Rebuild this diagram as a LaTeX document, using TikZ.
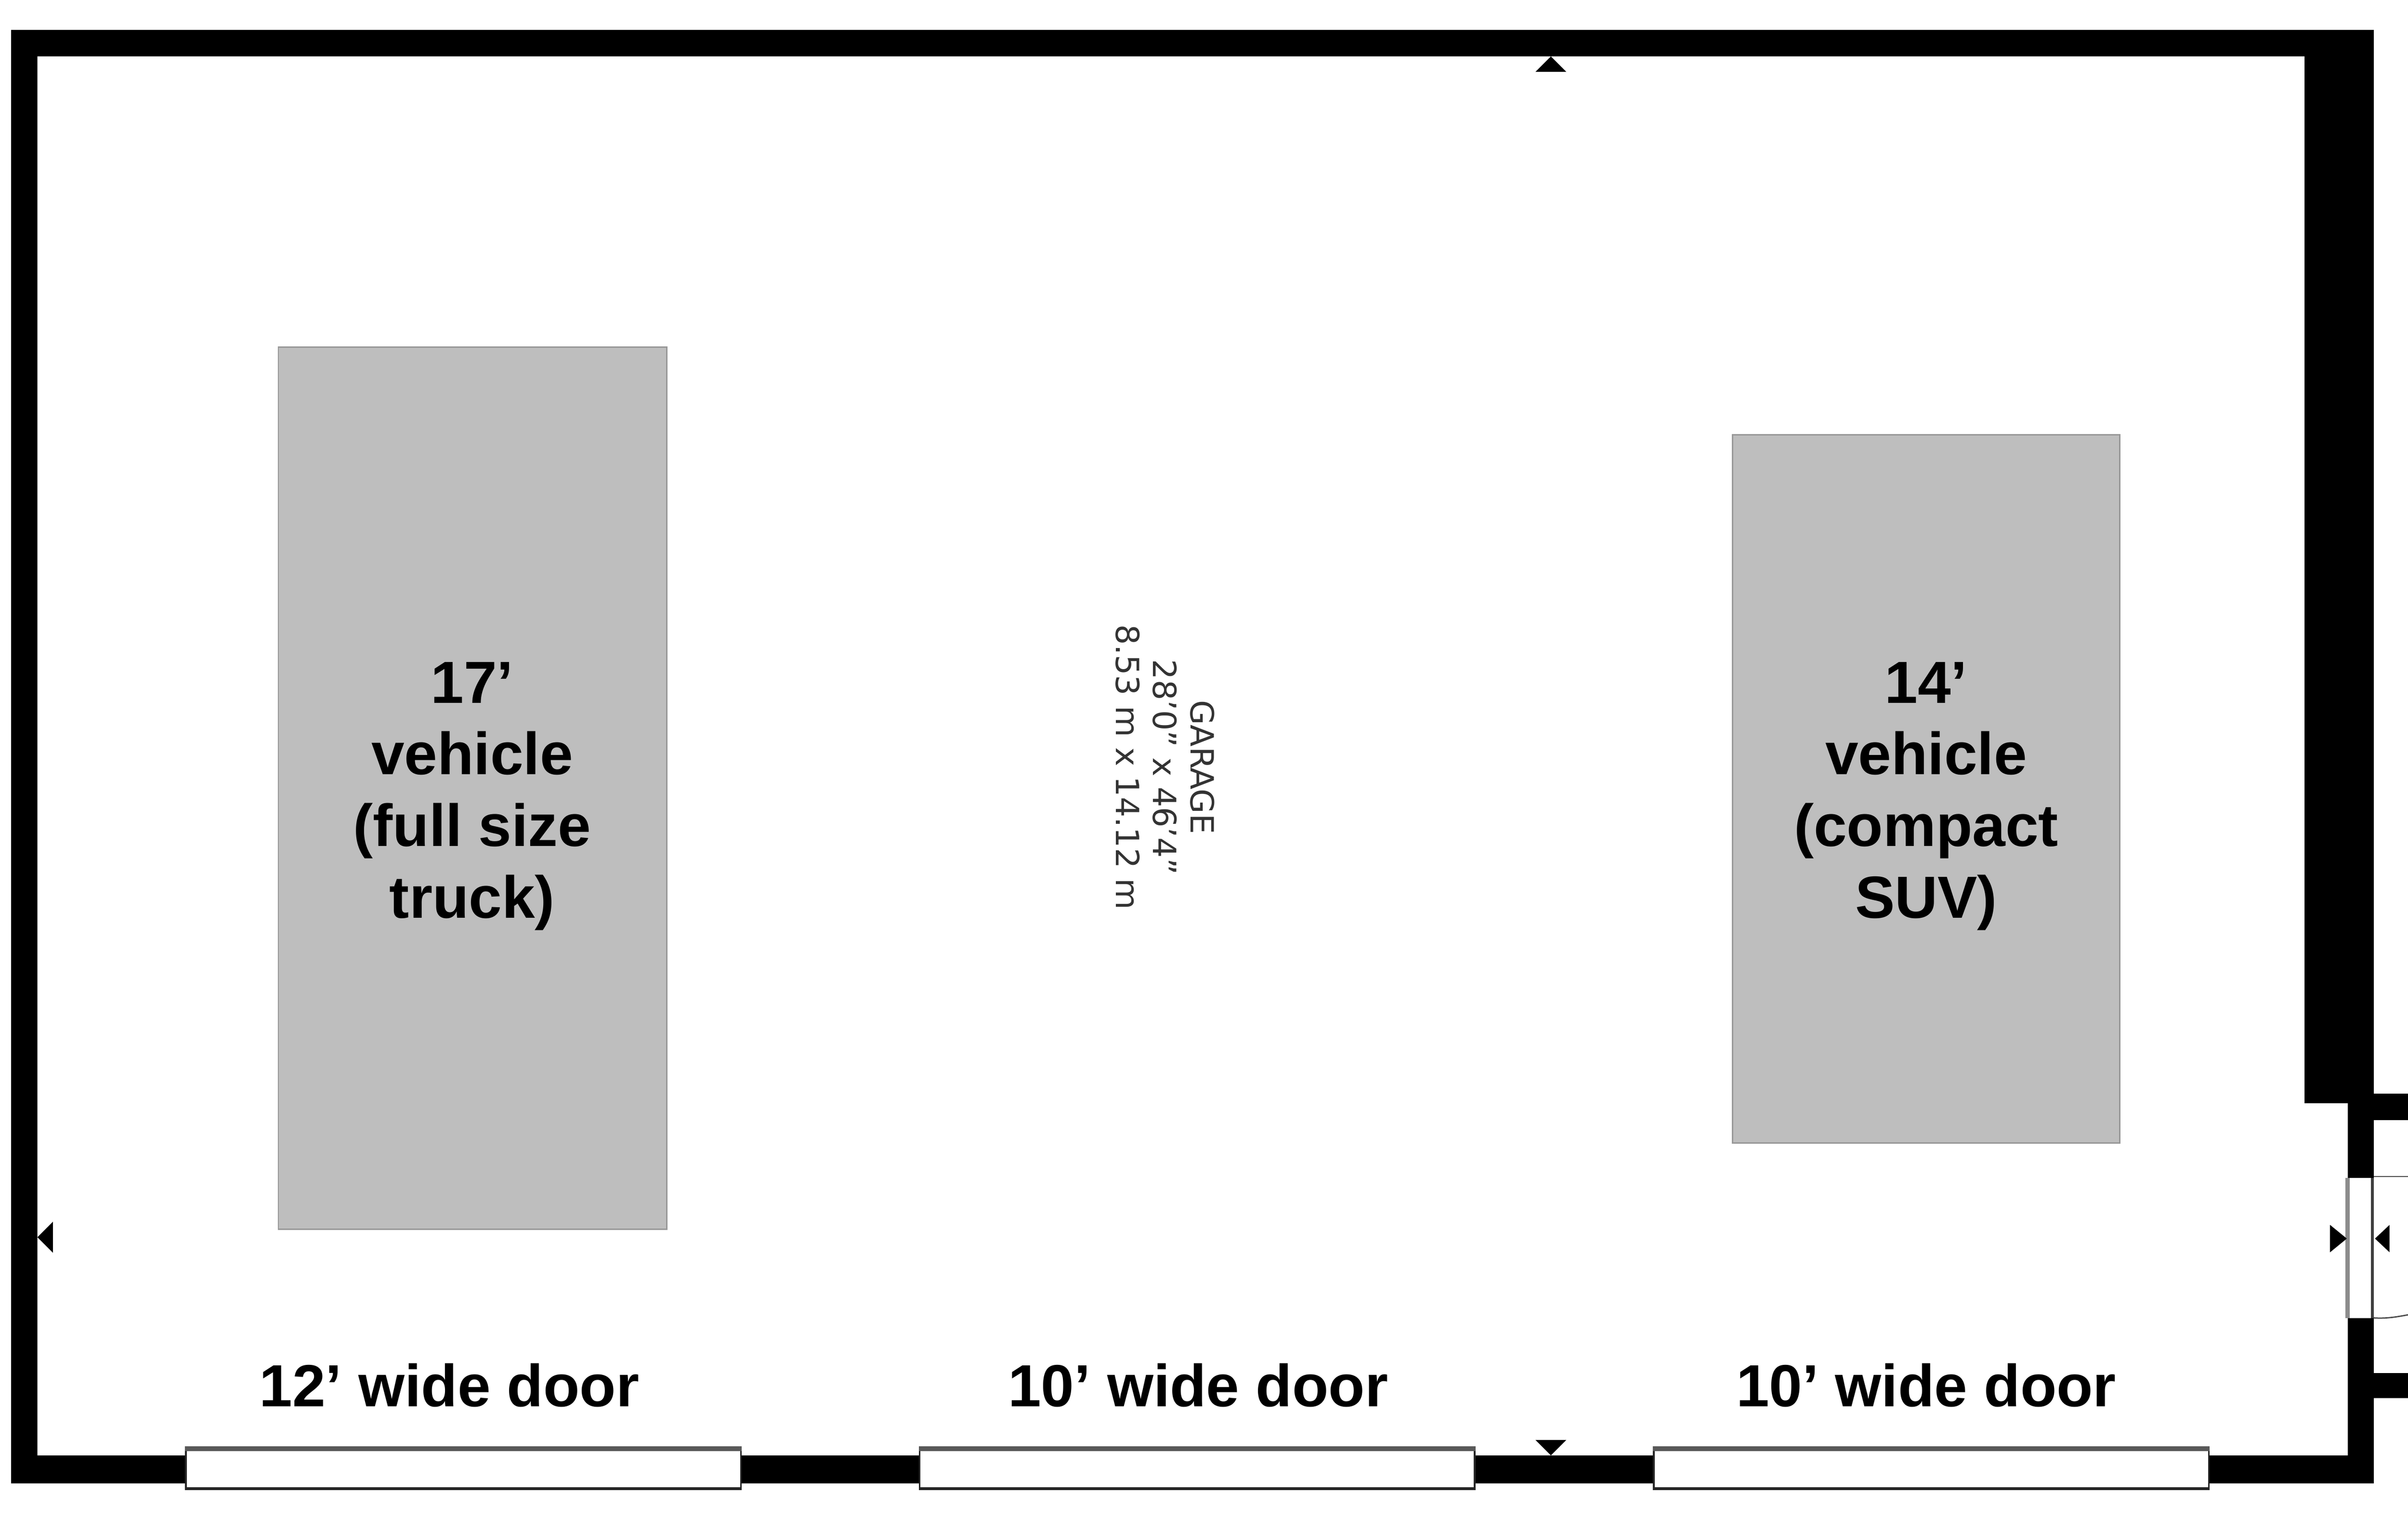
\documentclass[tikz,border=0pt]{standalone}
\usepackage{fontspec}
\setmainfont{Liberation Sans}
\newfontfamily\roomfont{DejaVu Sans}
\usetikzlibrary{calc}
\definecolor{carfill}{HTML}{BEBEBE}
\definecolor{carline}{HTML}{989898}
\tikzset{
  carbox/.style={draw=carline,line width=0.03cm,fill=carfill,inner sep=0pt},
  doorbox/.style={draw=black!85,line width=0.04cm,fill=white,inner sep=0pt,minimum width=12.6cm,minimum height=0.96cm},
  biglabel/.style={inner sep=0pt,align=center,font=\fontsize{38.4}{46.3}\selectfont\bfseries},
  roomlabel/.style={inner sep=0pt,align=center,rotate=-90,font=\fontsize{20.7}{24.2}\selectfont\roomfont,text=black!80},
  marker/.style={fill=black}
}
\begin{document}
\begin{tikzpicture}[y=-1cm]
  \useasboundingbox (0,0) rectangle (54.67,34.79);
  \fill[white] (0,0) rectangle (54.67,34.79);
  % walls
  \fill[black] (0.25,0.68) -- (53.89,0.68) -- (53.89,33.66) -- (0.25,33.66) -- cycle;
  \fill[white] (0.85,1.28) -- (52.32,1.28) -- (52.32,25.04) -- (53.30,25.04) -- (53.30,33.03) -- (0.85,33.03) -- cycle;
  \fill[black] (53.89,24.82) rectangle (54.67,25.42);
  \fill[black] (53.89,31.16) rectangle (54.67,31.73);
  % side door
  \fill[white] (53.30,26.73) rectangle (53.89,29.91);
  \draw[black!45,line width=0.1cm] (53.30,26.73) -- (53.30,29.91);
  \draw[black!75,line width=0.06cm] (53.86,26.73) -- (53.86,29.91);
  \draw[black!70,line width=0.03cm] (53.89,26.70) -- (54.67,26.70);
  \draw[black!70,line width=0.03cm] (53.89,29.91) .. controls (54.2,29.93) and (54.45,29.88) .. (54.67,29.84);
  % garage doors
  \node (doorA) [doorbox] at (10.52,33.32) {};
  \node (doorB) [doorbox] at (27.18,33.32) {};
  \node (doorC) [doorbox] at (43.85,33.32) {};
  \fill[black!65] (doorA.north west) rectangle ($(doorA.north east)+(0,0.11)$);
  \fill[black!65] (doorB.north west) rectangle ($(doorB.north east)+(0,0.11)$);
  \fill[black!65] (doorC.north west) rectangle ($(doorC.north east)+(0,0.11)$);
  \fill[black!85] (doorA.south west) rectangle ($(doorA.south east)+(0,-0.07)$);
  \fill[black!85] (doorB.south west) rectangle ($(doorB.south east)+(0,-0.07)$);
  \fill[black!85] (doorC.south west) rectangle ($(doorC.south east)+(0,-0.07)$);
  % vehicles
  \node (truck) [carbox,minimum width=8.82cm,minimum height=20.02cm] at (10.73,17.89) {};
  \node (suv) [carbox,minimum width=8.79cm,minimum height=16.07cm] at (43.73,17.905) {};
  \node (trucklabel) [biglabel] at (10.72,18.07) {17’\\vehicle\\(full size\\truck)};
  \node (suvlabel) [biglabel] at (43.73,18.07) {14’\\vehicle\\(compact\\SUV)};
  \node (doorAlabel) [biglabel] at (10.20,31.44) {12’ wide door};
  \node (doorBlabel) [biglabel] at (27.20,31.44) {10’ wide door};
  \node (doorClabel) [biglabel] at (43.73,31.44) {10’ wide door};
  \node (garage) [roomlabel] at (26.45,17.41) {GARAGE\\28’0” x 46’4”\\8.53 m x 14.12 m};
  % dimension marks
  \fill[marker] (35.21,1.28) -- (35.56,1.63) -- (34.86,1.63) -- cycle;
  \fill[marker] (35.21,33.03) -- (35.56,32.68) -- (34.86,32.68) -- cycle;
  \fill[marker] (0.85,28.08) -- (1.20,27.73) -- (1.20,28.43) -- cycle;
  \fill[marker] (53.28,28.11) -- (52.90,27.80) -- (52.90,28.42) -- cycle;
  \fill[marker] (53.92,28.11) -- (54.25,27.80) -- (54.25,28.42) -- cycle;
\end{tikzpicture}
\end{document}
